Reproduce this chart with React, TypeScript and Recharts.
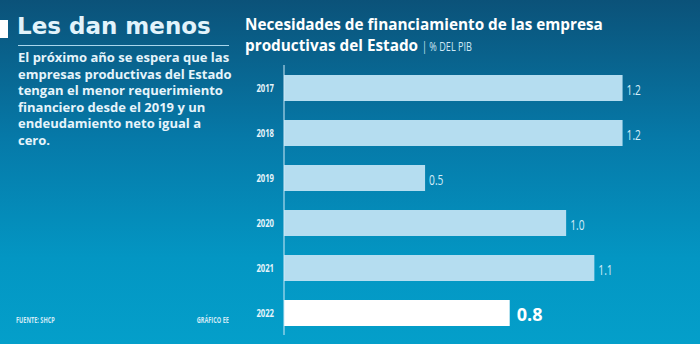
import { BarChart, Bar, XAxis, YAxis, LabelList, Cell } from 'recharts';

// Datos: necesidades de financiamiento, % del PIB
const anios = ['2017', '2018', '2019', '2020', '2021', '2022'];
const valores = [1.2, 1.2, 0.5, 1.0, 1.1, 0.8];
const destacado = '2022';

const datos = anios.map((anio, i) => ({ anio, valor: valores[i] }));

const TEXTO = '"Open Sans", "Noto Sans", sans-serif';

// Eje de años con letra "condensada" (escalado horizontal)
const TickAnio = ({ x, y, payload }: any) => (
  <text
    transform={`translate(${x},${y}) scale(0.7,1)`}
    textAnchor="end"
    dominantBaseline="central"
    fill="#e6f4fb"
    fontSize={11}
    fontWeight={700}
    fontFamily={TEXTO}
  >
    {payload.value}
  </text>
);

// Etiqueta de valor a la derecha de cada barra
const EtiquetaValor = (props: any) => {
  const { x, y, width, height, value, index } = props;
  if (anios[index] === destacado) {
    return (
      <text
        x={x + width + 7}
        y={y + height / 2 + 1}
        dominantBaseline="central"
        fill="#ffffff"
        fontSize={18}
        fontWeight={700}
        fontFamily={TEXTO}
      >
        {value.toFixed(1)}
      </text>
    );
  }
  return (
    <text
      transform={`translate(${x + width + 4},${y + height / 2 + 1}) scale(0.68,1)`}
      dominantBaseline="central"
      fill="#d4ecf8"
      fontSize={15}
      fontFamily={TEXTO}
    >
      {value.toFixed(1)}
    </text>
  );
};

const condensado = (escala: number, origen: string): any => ({
  display: 'inline-block',
  transform: `scaleX(${escala})`,
  transformOrigin: origen,
  whiteSpace: 'nowrap',
});

const tituloLinea: any = {
  position: 'absolute',
  left: 245,
  fontSize: 15.3,
  lineHeight: '16px',
  fontWeight: 700,
  color: '#ffffff',
  whiteSpace: 'nowrap',
};

export default function App() {
  return (
    <div
      style={{
        position: 'absolute',
        top: 0,
        left: 0,
        width: 700,
        height: 344,
        overflow: 'hidden',
        background: 'linear-gradient(180deg, #0b5279 0%, #0679a8 40%, #0396c3 75%, #049fca 100%)',
        fontFamily: TEXTO,
      }}
    >
      {/* bloque izquierdo */}
      <div style={{ position: 'absolute', left: 0, top: 20, width: 8, height: 18, background: '#ffffff' }} />
      <div
        style={{
          position: 'absolute',
          left: 17,
          top: 13,
          fontSize: 23,
          fontWeight: 700,
          color: '#e2f3fb',
          fontFamily: '"DejaVu Sans", sans-serif',
          whiteSpace: 'nowrap',
        }}
      >
        Les dan menos
      </div>
      <div style={{ position: 'absolute', left: 18, top: 45, width: 211, height: 1, background: '#a9d6ec' }} />
      <div
        style={{
          position: 'absolute',
          left: 18,
          top: 49,
          width: 215,
          fontSize: 13,
          lineHeight: '16.6px',
          fontWeight: 700,
          color: '#e6f4fb',
        }}
      >
        El próximo año se espera que las empresas productivas del Estado tengan el menor requerimiento financiero desde el 2019 y un endeudamiento neto igual a cero.
      </div>
      <div
        style={{
          position: 'absolute',
          left: 16,
          top: 314,
          fontSize: 9,
          lineHeight: '12px',
          fontWeight: 700,
          color: '#cfe9f6',
          ...condensado(0.62, 'left'),
        }}
      >
        FUENTE: SHCP
      </div>
      <div
        style={{
          position: 'absolute',
          right: 700 - 229,
          top: 314,
          fontSize: 9,
          lineHeight: '12px',
          fontWeight: 700,
          color: '#cfe9f6',
          ...condensado(0.62, 'right'),
        }}
      >
        GRÁFICO EE
      </div>

      {/* título del gráfico, una línea por bloque */}
      <div style={{ ...tituloLinea, top: 16 }}>Necesidades de financiamiento de las empresa</div>
      <div style={{ ...tituloLinea, top: 37 }}>
        productivas del Estado{' '}
        <span style={{ fontWeight: 400, fontSize: 13, color: '#cfe9f6', ...condensado(0.7, 'left') }}>| % DEL PIB</span>
      </div>

      <div style={{ position: 'absolute', left: 0, top: 0 }}>
        <BarChart
          width={700}
          height={344}
          data={datos}
          layout="vertical"
          margin={{ top: 65, right: 21, bottom: 9, left: 240 }}
          barSize={26}
        >
          <XAxis type="number" domain={[0, 1.4]} hide />
          <YAxis
            type="category"
            dataKey="anio"
            width={44}
            axisLine={{ stroke: '#cfe9f6', strokeWidth: 1 }}
            tickLine={false}
            tickMargin={4}
            tick={<TickAnio />}
          />
          <Bar dataKey="valor" isAnimationActive={false}>
            {datos.map((d) => (
              <Cell key={d.anio} fill={d.anio === destacado ? '#ffffff' : '#b5ddf0'} />
            ))}
            <LabelList dataKey="valor" content={<EtiquetaValor />} />
          </Bar>
        </BarChart>
      </div>
    </div>
  );
}
